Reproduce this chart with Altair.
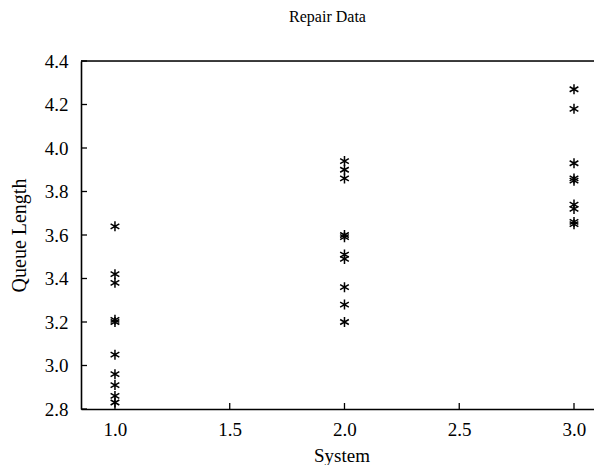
import altair as alt
import pandas as pd

sys1 = [3.64, 3.42, 3.38, 3.21, 3.20, 3.05, 2.96, 2.91, 2.86, 2.83]
sys2 = [3.94, 3.90, 3.86, 3.60, 3.59, 3.51, 3.49, 3.36, 3.28, 3.20]
sys3 = [4.27, 4.18, 3.93, 3.86, 3.85, 3.74, 3.72, 3.66, 3.65]

x_ticks = [1.0, 1.5, 2.0, 2.5, 3.0]
y_ticks = [2.8, 3.0, 3.2, 3.4, 3.6, 3.8, 4.0, 4.2, 4.4]

rows = []
for s, vals in [(1.0, sys1), (2.0, sys2), (3.0, sys3)]:
    for v in vals:
        rows.append({"System": s, "Queue": v})
df = pd.DataFrame(rows)

W, H = 521, 348
FONT = "Liberation Serif"
xdom = [0.852, 3.122]
ydom = [2.8, 4.4]

xs = alt.Scale(domain=xdom, nice=False, zero=False)
ys = alt.Scale(domain=ydom, nice=False, zero=False)

star = "M0,-1L0,1M-0.87,-0.5L0.87,0.5M-0.87,0.5L0.87,-0.5"

points = alt.Chart(df).mark_point(
    shape=star, filled=False, stroke="black", strokeWidth=1.5, size=100, opacity=1
).encode(
    x=alt.X("System:Q", scale=xs,
            axis=alt.Axis(title="System", values=x_ticks, format=".1f", ticks=False,
                          grid=False, domainColor="black", domainWidth=1.6,
                          labelPadding=11, labelFontSize=19, labelFont=FONT,
                          labelColor="black", titleFont=FONT, titleFontSize=19,
                          titleFontWeight="normal", titleColor="black", titlePadding=7)),
    y=alt.Y("Queue:Q", scale=ys,
            axis=alt.Axis(title="Queue Length", values=y_ticks, format=".1f", ticks=False,
                          grid=False, domainColor="black", domainWidth=1.6,
                          labelPadding=13, labelFontSize=19, labelFont=FONT,
                          labelColor="black", titleFont=FONT, titleFontSize=20,
                          titleFontWeight="normal", titleColor="black", titlePadding=15)),
)

ytick_df = pd.DataFrame({"v": y_ticks})
xtick_df = pd.DataFrame({"v": x_ticks})

yt = alt.Chart(ytick_df).mark_rule(color="black", strokeWidth=1.3).encode(
    y=alt.Y("v:Q", scale=ys), x=alt.value(0), x2=alt.value(6)
)
xt = alt.Chart(xtick_df).mark_rule(color="black", strokeWidth=1.3).encode(
    x=alt.X("v:Q", scale=xs), y=alt.value(H), y2=alt.value(H - 6)
)
top = alt.Chart(pd.DataFrame({"a": [0]})).mark_rule(color="black", strokeWidth=1.6).encode(
    y=alt.value(0), x=alt.value(0), x2=alt.value(W)
)

chart = alt.layer(points, yt, xt, top).properties(
    width=W, height=H,
    title=alt.TitleParams("Repair Data", font=FONT, fontSize=16, fontWeight="normal",
                          color="black", anchor="middle", offset=27, dx=-14),
    padding={"left": 73, "top": 53, "right": -8, "bottom": 56},
    autosize="none",
).configure_view(stroke=None).configure(background="white")

chart.save("out.html", embed_options={"renderer": "svg", "actions": False})
